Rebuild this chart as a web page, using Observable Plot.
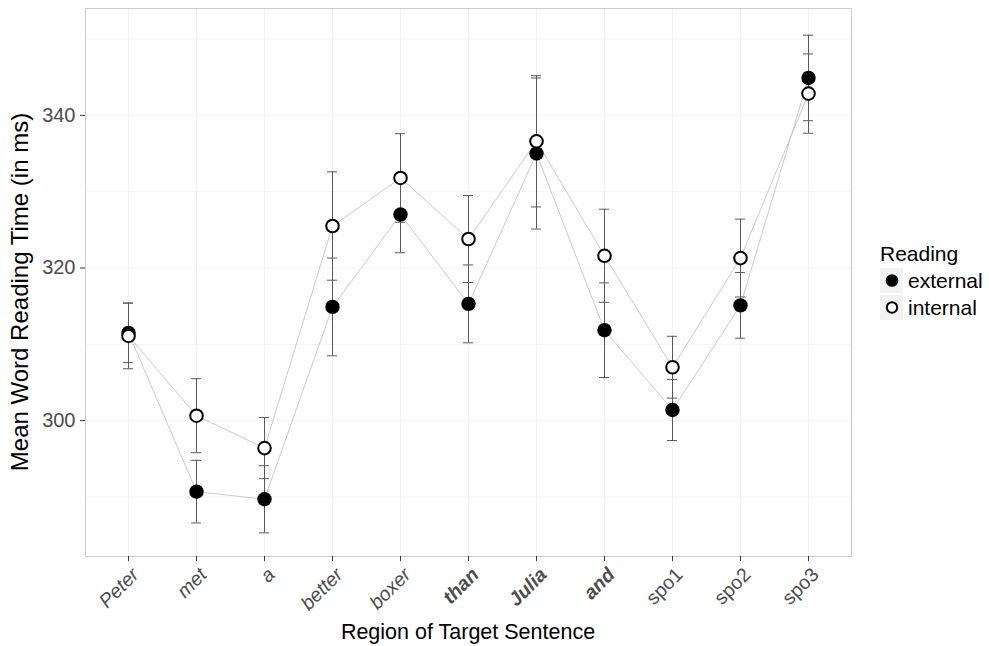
<!DOCTYPE html>
<html><head><meta charset="utf-8">
<script src="https://cdn.jsdelivr.net/npm/d3@7"></script>
<script src="https://cdn.jsdelivr.net/npm/@observablehq/plot@0.6"></script>
<style>
body{margin:0;background:#fff;font-family:"Liberation Sans",Arial,sans-serif;}
#chart{position:relative;width:989px;height:646px;}
</style></head><body><div id="chart"></div>
<script>
const regions = ["Peter","met","a","better","boxer","than","Julia","and","spo1","spo2","spo3"];
const readings = ["external","internal"];
const externalMean = [311.5, 290.7, 289.7, 314.9, 327.0, 315.3, 335.0, 311.85, 301.4, 315.1, 344.9];
const externalSE   = [3.9, 4.1, 4.4, 6.4, 5.0, 5.1, 9.9, 6.2, 4.0, 4.3, 5.6];
const internalMean = [311.1, 300.65, 296.4, 325.5, 331.8, 323.8, 336.6, 321.6, 307.0, 321.3, 342.85];
const internalSE   = [4.3, 4.85, 4.0, 7.1, 5.8, 5.7, 8.6, 6.1, 4.05, 5.1, 5.2];
const yTicks = [300, 320, 340];
const yGrid = [290, 300, 310, 320, 330, 340, 350];
const italicLabels = ["Peter","met","a","better","boxer"];
const boldLabels = ["than","Julia","and"];

const data = [];
regions.forEach((r, i) => {
  data.push({region: r, reading: "external", mean: externalMean[i], se: externalSE[i]});
  data.push({region: r, reading: "internal", mean: internalMean[i], se: internalSE[i]});
});
const ext = data.filter(d => d.reading === "external");
const int = data.filter(d => d.reading === "internal");

const font = "Liberation Sans, Arial, sans-serif";
const plot = Plot.plot({
  width: 989, height: 646,
  marginLeft: 85, marginRight: 138, marginTop: 8, marginBottom: 90,
  style: {fontFamily: font, background: "white", overflow: "visible"},
  x: {type: "band", domain: regions, paddingInner: 0.846, paddingOuter: 0.523, label: null},
  y: {domain: [282.2, 354.0], label: null},
  marks: [
    Plot.gridY(yGrid, {stroke: "#f4f4f4", strokeOpacity: 1, strokeWidth: 1}),
    Plot.gridX(regions, {stroke: "#f4f4f4", strokeOpacity: 1, strokeWidth: 1}),
    Plot.frame({stroke: "#cccccc"}),
    Plot.line(data, {x: "region", y: "mean", z: "reading", stroke: "#c4c4c4", strokeWidth: 0.9}),
    Plot.ruleX(data, {x: "region", y1: d => d.mean - d.se, y2: d => d.mean + d.se, stroke: "#5a5a5a", strokeWidth: 1}),
    Plot.tickY(data, {x: "region", y: d => d.mean - d.se, stroke: "#5a5a5a", strokeWidth: 1}),
    Plot.tickY(data, {x: "region", y: d => d.mean + d.se, stroke: "#5a5a5a", strokeWidth: 1}),
    Plot.dot(ext, {x: "region", y: "mean", r: 7.2, fill: "black", stroke: "none"}),
    Plot.dot(int, {x: "region", y: "mean", r: 6.3, fill: "white", stroke: "black", strokeWidth: 2}),
    Plot.axisY(yTicks, {tickSize: 5, tickPadding: 5, fontSize: 20, label: null}),
    Plot.axisX(regions, {tickSize: 5, tickPadding: 3, tickRotate: -45, fontSize: 19.5, label: null})
  ]
});
document.getElementById("chart").appendChild(plot);

const svg = d3.select(plot);
svg.selectAll('g[aria-label="y-axis tick label"] text, g[aria-label="x-axis tick label"] text').attr("fill", "#4d4d4d");
svg.selectAll('g[aria-label="y-axis tick"] path, g[aria-label="x-axis tick"] path').attr("stroke", "#333333");
svg.selectAll('g[aria-label="x-axis tick label"]').each(function() {
  const g = d3.select(this);
  const t0 = g.attr("transform") || "";
  g.attr("transform", (t0 + " translate(7,7)").trim());
});
svg.selectAll('g[aria-label="x-axis tick label"] text').each(function() {
  const t = d3.select(this).text();
  if (italicLabels.includes(t)) d3.select(this).attr("font-style", "italic");
  else if (boldLabels.includes(t)) d3.select(this).attr("font-style", "italic").attr("font-weight", "bold");
});

// axis titles
svg.append("text").attr("x", 468).attr("y", 639).attr("text-anchor", "middle")
  .attr("font-family", font).attr("font-size", 21.5).attr("fill", "black").text("Region of Target Sentence");
svg.append("text").attr("transform", "translate(28,292) rotate(-90)").attr("text-anchor", "middle")
  .attr("font-family", font).attr("font-size", 24).attr("fill", "black").text("Mean Word Reading Time (in ms)");

// legend
const lg = svg.append("g").attr("font-family", font).attr("text-anchor", "start");
lg.append("text").attr("x", 880).attr("y", 261).attr("font-size", 21).attr("fill", "black").text("Reading");
readings.forEach((r, i) => {
  const y0 = 268 + i * 27;
  lg.append("rect").attr("x", 880).attr("y", y0).attr("width", 23).attr("height", 25).attr("fill", "#f2f2f2");
  if (r === "external") lg.append("circle").attr("cx", 892).attr("cy", y0 + 12.5).attr("r", 6.3).attr("fill", "black");
  else lg.append("circle").attr("cx", 892).attr("cy", y0 + 12.5).attr("r", 5.2).attr("fill", "white").attr("stroke", "black").attr("stroke-width", 2);
  lg.append("text").attr("x", 908).attr("y", y0 + 12.5).attr("dy", "0.35em").attr("font-size", 21).attr("fill", "black").text(r);
});
</script></body></html>
